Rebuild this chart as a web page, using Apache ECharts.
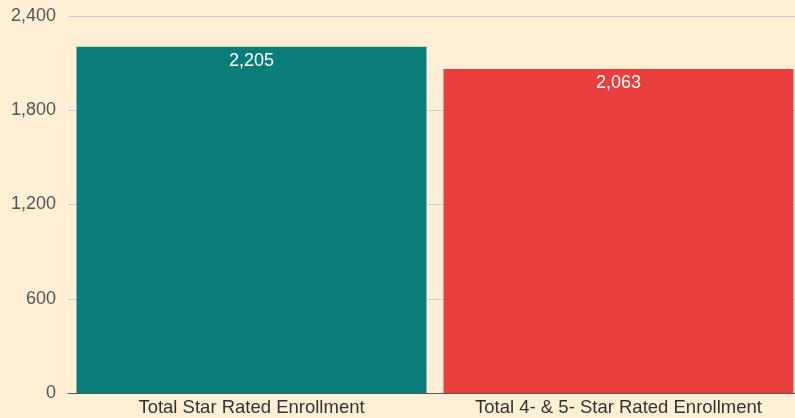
<!DOCTYPE html>
<html>
<head>
<meta charset="utf-8">
<script src="https://cdn.jsdelivr.net/npm/echarts@6/dist/echarts.min.js"></script>
<style>
  html, body { margin: 0; padding: 0; background: #FFEFD5; }
  #chart { width: 795px; height: 418px; }
</style>
</head>
<body>
<div id="chart"></div>
<script>
// categories and values
var categories = ['Total Star Rated Enrollment', 'Total 4- & 5- Star Rated Enrollment'];
var enrollment = [2205, 2063];
var barColors = ['#0A7D78', '#E83E3E'];
var yTicks = { min: 0, max: 2400, interval: 600 };

var chart = echarts.init(document.getElementById('chart'));
chart.setOption({
  backgroundColor: '#FFEFD5',
  textStyle: { fontFamily: 'Liberation Sans, Arial, sans-serif' },
  grid: { left: 68, top: 16, bottom: 25, width: 734, outerBoundsMode: 'none', containLabel: false },
  xAxis: {
    type: 'category',
    data: categories,
    axisLine: { lineStyle: { color: '#555', width: 1 } },
    axisTick: { show: false },
    axisLabel: { color: '#333', fontSize: 18.5, margin: 5, interval: 0 }
  },
  yAxis: {
    type: 'value',
    min: yTicks.min,
    max: yTicks.max,
    interval: yTicks.interval,
    axisLine: { show: false },
    axisTick: { show: false },
    axisLabel: {
      color: '#555', fontSize: 18, margin: 12,
      formatter: function (v) { return v.toLocaleString('en-US'); }
    },
    splitLine: { lineStyle: { color: '#C9CCD6', width: 1 } }
  },
  series: [{
    type: 'bar',
    barWidth: 350,
    data: enrollment.map(function (v, i) {
      return { value: v, itemStyle: { color: barColors[i] } };
    }),
    label: {
      show: true,
      position: 'insideTop',
      distance: 5,
      color: '#fff',
      fontSize: 18,
      formatter: function (p) { return p.value.toLocaleString('en-US'); }
    }
  }]
});
</script>
</body>
</html>
